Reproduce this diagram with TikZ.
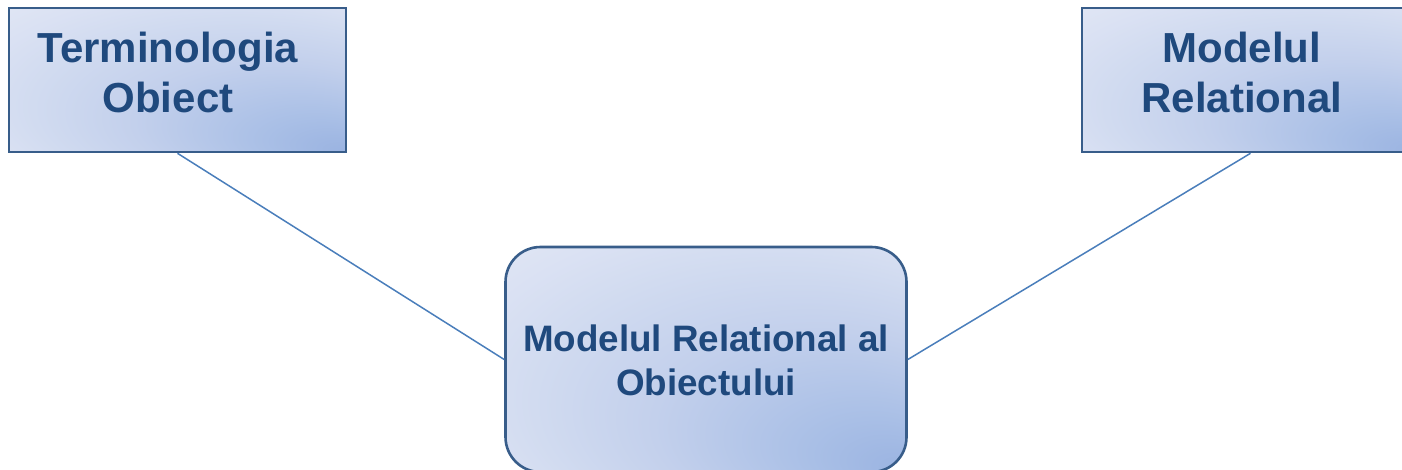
\documentclass[tikz,border=0pt]{standalone}
\usepackage{fontspec}
\setmainfont{Liberation Sans}
\definecolor{txtblue}{HTML}{1F497D}
\definecolor{edgeblue}{HTML}{385D8A}
\definecolor{linkblue}{HTML}{4A7EBB}
\definecolor{sA}{HTML}{9AB3E1}
\definecolor{sB}{HTML}{A9BFE6}
\definecolor{sC}{HTML}{C3D0EC}
\definecolor{sD}{HTML}{D1DBF0}
\definecolor{sE}{HTML}{DAE1F3}
\definecolor{sF}{HTML}{E0E6F4}
\definecolor{sG}{HTML}{E2E8F5}
\pgfdeclareradialshading{boxshade}{\pgfpoint{25bp}{-25bp}}{%
  color(0bp)=(sA); color(8bp)=(sB); color(21bp)=(sC); color(31bp)=(sD);
  color(37bp)=(sE); color(42bp)=(sF); color(50bp)=(sG)}
\tikzset{
  boxnode/.style={draw=edgeblue, line width=2.6pt, shading=boxshade, inner sep=0pt, rectangle},
  lbl/.style={text=txtblue, align=center, inner sep=0pt},
  bigfont/.style={font=\bfseries\fontsize{42}{50}\selectfont},
  midfont/.style={font=\bfseries\fontsize{36.8}{44}\selectfont},
  link/.style={draw=linkblue, line width=1.5pt}
}
\begin{document}
\begin{tikzpicture}[x=1pt,y=-1pt]
\useasboundingbox (0,0) rectangle (1402,469);
\clip (0,0) rectangle (1402,469);
\node[boxnode, minimum width=337pt, minimum height=144pt] (TO) at (177.5,80) {};
\node[boxnode, minimum width=337pt, minimum height=144pt] (RM) at (1250.5,80) {};
\node[boxnode, rounded corners=35pt, minimum width=401pt, minimum height=225pt] (MR) at (706,359.5) {};
\draw[link] (TO.south) -- (MR.west);
\draw[link] (RM.south) -- (MR.east);
\node[lbl, bigfont] (TOl) at (168,72) {Terminologia\\Obiect};
\node[lbl, bigfont] (RMl) at (1241.7,72) {Modelul\\Relational};
\node[lbl, midfont] (MRl) at (706,360.5) {Modelul Relational al\\Obiectului};
\end{tikzpicture}
\end{document}
